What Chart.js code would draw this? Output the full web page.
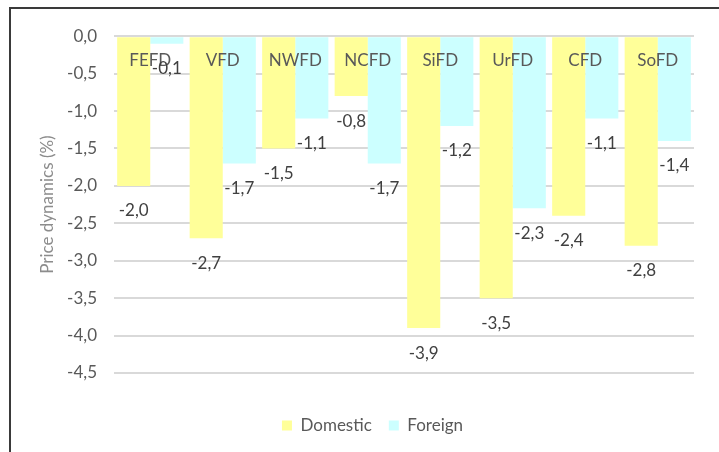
<!DOCTYPE html>
<html>
<head>
<meta charset="utf-8">
<script src="https://cdn.jsdelivr.net/npm/chart.js@4.4.1/dist/chart.umd.min.js"></script>
<style>
    html, body { margin: 0; padding: 0; background: #fff; }
    body { width: 719px; height: 452px; overflow: hidden; position: relative; }
    #frame {
        position: absolute; left: 9px; top: 7px; right: 0; bottom: 0;
        border-left: 2px solid #3a3a3a; border-top: 2px solid #3a3a3a;
    }
    #wrap { position: absolute; left: 11px; top: 9px; width: 708px; height: 443px; }
</style>
</head>
<body>
<div id="frame"></div>
<div id="wrap"><canvas id="chart"></canvas></div>
<script>
const districts = ["FEFD", "VFD", "NWFD", "NCFD", "SiFD", "UrFD", "CFD", "SoFD"];
const domestic = [-2.0, -2.7, -1.5, -0.8, -3.9, -3.5, -2.4, -2.8];
const foreign = [-0.1, -1.7, -1.1, -1.7, -1.2, -2.3, -1.1, -1.4];

const fmt = v => Number(v).toFixed(1).replace(".", ",");

// district names inside the plot, value labels under each bar end
const barLabels = {
    id: "barLabels",
    afterDatasetsDraw(chart) {
        const c = chart.ctx;
        const xs = chart.scales.x;
        c.save();
        c.font = "17px Lato";
        c.textAlign = "center";
        c.textBaseline = "middle";
        c.fillStyle = "#595959";
        chart.data.labels.forEach((lab, i) => {
            c.fillText(lab, xs.getPixelForValue(i), chart.chartArea.top + 24);
        });
        c.fillStyle = "#404040";
        chart.data.datasets.forEach((ds, i) => {
            chart.getDatasetMeta(i).data.forEach((bar, j) => {
                c.fillText(fmt(ds.data[j]), bar.x, bar.y + 25);
            });
        });
        c.restore();
    }
};

new Chart(document.getElementById("chart"), {
    type: "bar",
    data: {
        labels: districts,
        datasets: [
            { label: "Domestic", data: domestic, backgroundColor: "#ffff99" },
            { label: "Foreign", data: foreign, backgroundColor: "#ccffff" }
        ]
    },
    options: {
        responsive: true,
        maintainAspectRatio: false,
        animation: false,
        categoryPercentage: 0.913,
        barPercentage: 1.0,
        layout: { padding: { top: 20, right: 25, left: 40, bottom: 8 } },
        plugins: {
            legend: {
                position: "bottom",
                labels: {
                    boxWidth: 10, boxHeight: 10, padding: 17,
                    color: "#595959",
                    font: { family: "Lato", size: 17 }
                }
            },
            tooltip: { enabled: false }
        },
        scales: {
            x: {
                position: "bottom",
                grid: { display: false, drawTicks: false },
                border: { display: false },
                ticks: { display: false },
                afterFit: s => { s.height = 27; }
            },
            y: {
                min: -4.5,
                max: 0,
                ticks: {
                    stepSize: 0.5,
                    padding: 17,
                    color: "#595959",
                    font: { family: "Lato", size: 17 },
                    callback: v => fmt(v)
                },
                grid: { color: "#d9d9d9", lineWidth: 2, drawTicks: false },
                border: { display: false },
                title: {
                    display: true,
                    text: "Price dynamics (%)",
                    color: "#8c8c8c",
                    font: { family: "Lato", size: 17 },
                    padding: { top: -14, bottom: 0 }
                },
                afterFit: s => { s.width = 63; }
            }
        }
    },
    plugins: [barLabels]
});
</script>
</body>
</html>
